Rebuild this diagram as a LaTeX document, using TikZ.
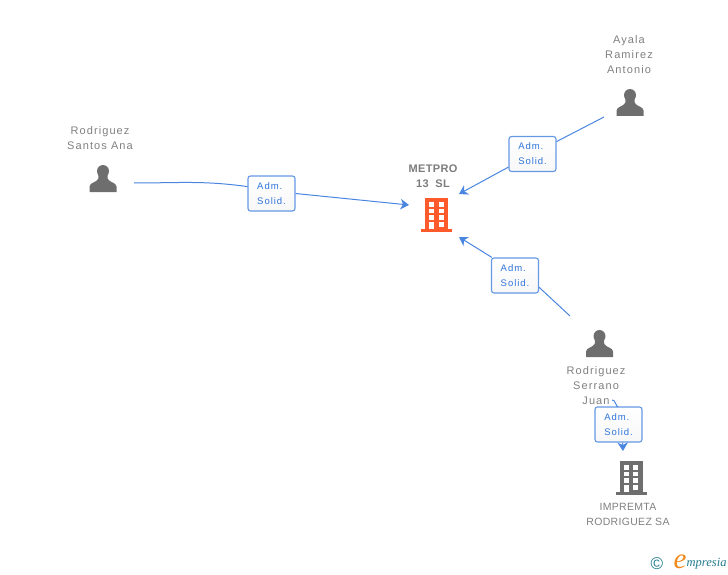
\documentclass[tikz,border=0pt]{standalone}
\usepackage{fontspec}
\setmainfont[LetterSpace=10]{Liberation Sans}
\newfontfamily\titlefont[LetterSpace=3]{Liberation Sans}
\newfontfamily\logofont{Liberation Serif}
\usetikzlibrary{arrows.meta,shadings}

\definecolor{linkblue}{HTML}{4A86E0}
\definecolor{textblue}{HTML}{2F74DC}
\definecolor{namegrey}{HTML}{808080}
\definecolor{icongrey}{HTML}{6E6E6E}
\definecolor{iconorange}{HTML}{FF5A2B}
\definecolor{logoteal}{HTML}{1F7A8C}
\definecolor{logoorange}{HTML}{F08A1D}

\tikzset{
  rolebox/.style={draw=linkblue!85, line width=1.1pt, rounded corners=2.5pt, top color=white, bottom color=black!3,
    minimum width=47pt, minimum height=35pt, inner sep=0pt, align=left, text=textblue,
    font=\fontsize{9.5}{15}\selectfont},
  namelabel/.style={align=center, text=namegrey, inner sep=0pt, font=\fontsize{11}{15}\selectfont},
  linkline/.style={color=linkblue, line width=1pt},
  person/.pic={
    \fill[icongrey] (0,-7.3) ellipse (6 and 6.2);
    \fill[icongrey] (-13.5,13.5) -- (-13.5,8) .. controls (-13.5,4) and (-6,4) .. (-4.6,0) -- (-4.6,-4)
      -- (4.6,-4) -- (4.6,0) .. controls (6,4) and (13.5,4) .. (13.5,8) -- (13.5,13.5) -- cycle;
  },
  building/.pic={
    \fill[#1] (-11.5,-17) rectangle (11.5,14);
    \fill[#1] (-15.5,14) rectangle (15.5,17);
    \foreach \y in {-13,-6.5,0}
      \foreach \x in {-7.5,2}
        \fill[white] (\x,\y) rectangle ++(5.2,4.5);
    \fill[white] (-7.5,7) rectangle ++(5.2,7);
    \fill[white] (2,7) rectangle ++(5.2,4.5);
  }
}

\begin{document}
\begin{tikzpicture}[x=1pt,y=-1pt,>={Stealth[length=8.5pt,width=10.5pt,inset=2.5pt]}]
  \useasboundingbox (0,0) rectangle (728,575);

  \node[namelabel] (anatext) at (100,138) {Rodriguez\\Santos Ana};
  \node[namelabel] (ayalatext) at (629,55) {Ayala\\Ramirez\\Antonio};
  \node[namelabel] (juantext) at (596,385.5) {Rodriguez\\Serrano\\Juan};
  \node[namelabel, font=\titlefont\fontsize{10.5}{15}\selectfont] (imprtext) at (628,514.5) {IMPREMTA\\RODRIGUEZ SA};
  \node[namelabel, font=\titlefont\bfseries\fontsize{11}{15}\selectfont, text=icongrey!90] (mettext) at (433,176) {METPRO\\13\ \ SL};

  \pic at (103,178.5) {person};
  \pic at (630,102.5) {person};
  \pic at (599.5,343.5) {person};
  \pic at (436.5,215) {building=iconorange};
  \pic at (631,478) {building=icongrey};

  \coordinate (anaout) at (134,183);
  \coordinate (ayalaout) at (604,117);
  \coordinate (juanout) at (570,316);
  \coordinate (juandown) at (612,400);
  \coordinate (metleft) at (409,205);
  \coordinate (metup) at (459,194);
  \coordinate (metlow) at (459,237);
  \coordinate (imprin) at (623,451);

  \node[rolebox] (roleana) at (271.5,193.5) {Adm.\\Solid.};
  \node[rolebox] (roleayala) at (532.5,154) {Adm.\\Solid.};
  \node[rolebox] (rolejuan) at (515,275.5) {Adm.\\Solid.};
  \node[rolebox] (roleimpr) at (618.5,424.5) {Adm.\\Solid.};

  \path[linkline]
  (anaout) edge[out=0,in=172] (roleana.164)
  (ayalaout) edge (roleayala)
  (juanout) edge (rolejuan.-26)
  (juandown) edge[out=30,in=-110] (roleimpr.91)
  ;

  \path[linkline,->]
  (roleana.east) edge (metleft)
  (roleayala) edge (metup)
  (rolejuan.142) edge (metlow)
  (roleimpr.-77) edge (imprin)
  ;

  \node[inner sep=0pt, text=logoteal, font=\fontsize{17}{17}\selectfont] (logoc) at (657,564) {©};
  \node[inner sep=0pt, text=logoorange, font=\logofont\itshape\fontsize{29}{29}\selectfont] (logoe) at (680,562) {e};
  \node[inner sep=0pt, text=logoteal, anchor=west, font=\logofont\itshape\fontsize{12.5}{13}\selectfont] (logotext) at (686.5,564) {mpresia};
\end{tikzpicture}
\end{document}
